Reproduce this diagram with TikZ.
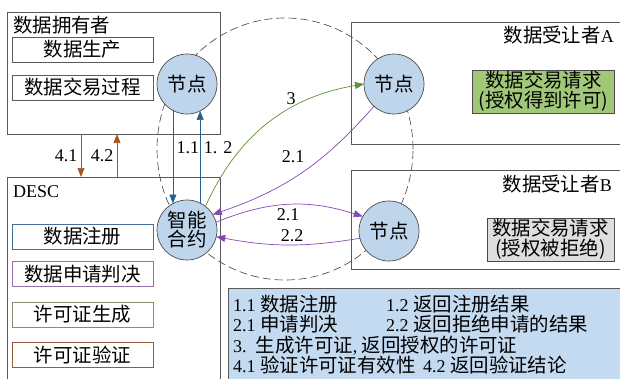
\documentclass[tikz,border=0pt]{standalone}
\usepackage{fontspec}
\setmainfont{Liberation Serif}
\newfontfamily\cjk[Scale=1.08]{Noto Sans CJK SC}
\newcommand{\zh}[1]{{\cjk #1}}
\usetikzlibrary{arrows.meta}
\definecolor{peerfill}{RGB}{190,213,236}
\definecolor{legendfill}{RGB}{196,218,240}
\definecolor{grantfill}{RGB}{160,200,120}
\definecolor{denyfill}{RGB}{222,222,222}
\definecolor{regblue}{RGB}{70,110,150}
\definecolor{decpurple}{RGB}{150,110,170}
\definecolor{genolive}{RGB}{140,140,110}
\definecolor{verbrown}{RGB}{150,90,60}
\definecolor{flowblue}{RGB}{40,95,145}
\definecolor{flowbrown}{RGB}{165,85,35}
\definecolor{flowgreen}{RGB}{95,145,55}
\definecolor{flowpurple}{RGB}{135,70,185}
\tikzset{
  party/.style={draw=black!65, line width=0.8pt, inner sep=0pt, outer sep=0pt},
  task/.style={draw=#1, line width=0.7pt, minimum width=141pt, minimum height=25pt, inner sep=0pt, outer sep=0pt},
  task/.default=black!65,
  peer/.style={circle, draw=black!70, fill=peerfill, line width=0.7pt, minimum size=60pt, inner sep=0pt, outer sep=0pt, align=center, font=\fontsize{18}{19}\selectfont},
  flow/.style={line width=0.7pt, -{Triangle[length=9pt,width=7pt]}},
  ring/.style={draw=black!75, line width=0.6pt, dash pattern=on 8pt off 4pt},
}
\begin{document}
\begin{tikzpicture}[x=1pt, y=-1pt, font=\fontsize{18}{20}\selectfont]
  \useasboundingbox (0,0) rectangle (620,378);
  % dashed ring behind the peers
  \draw[ring] (285,149) ellipse [x radius=128pt, y radius=131pt];
  % data owner
  \node[party, minimum width=213pt, minimum height=122pt] (owner) at (113.5,73) {};
  \node[anchor=west, inner sep=0pt] (ownertitle) at (13,25) {\zh{数据拥有者}};
  \node[task] (produce) at (82.5,49.5) {\zh{数据生产}};
  \node[task] (process) at (82.5,87.5) {\zh{数据交易过程}};
  \node[peer] (nodeO) at (187,84) {\zh{节点}};
  % DESC
  \node[party, minimum width=213pt, minimum height=215pt] (desc) at (113.5,284.5) {};
  \node[anchor=west, inner sep=0pt] (desctitle) at (13,192) {DESC};
  \foreach \txt/\y/\col [count=\i] in {数据注册/236.5/regblue, 数据申请判决/274/decpurple, 许可证生成/314.5/genolive, 许可证验证/355/verbrown}
    \node[task=\col] (job\i) at (82.5,\y) {\zh{\txt}};
  \node[peer] (contract) at (187,230) {\zh{智能}\\\zh{合约}};
  % grantee A
  \node[party, minimum width=274pt, minimum height=122pt] (granteeA) at (488,83) {};
  \node[anchor=east, inner sep=0pt] (titleA) at (614,35) {\zh{数据受让者}A};
  \node[draw=black!70, line width=0.7pt, fill=grantfill, minimum width=142pt, minimum height=43pt, inner sep=0pt, align=center] (grantA) at (543.5,91.5) {\zh{数据交易请求}\\\zh{(授权得到许可)}};
  \node[peer] (nodeA) at (394,84) {\zh{节点}};
  % grantee B
  \node[party, minimum width=274pt, minimum height=99pt] (granteeB) at (488,219.5) {};
  \node[anchor=east, inner sep=0pt] (titleB) at (612,184) {\zh{数据受让者}B};
  \node[draw=black!70, line width=0.7pt, fill=denyfill, minimum width=127pt, minimum height=43pt, inner sep=0pt, align=center] (denyB) at (550.5,239.5) {\zh{数据交易请求}\\\zh{(授权被拒绝)}};
  \node[peer] (nodeB) at (389,231) {\zh{节点}};
  % legend
  \node[party, fill=legendfill, minimum width=397pt, minimum height=100pt] (legend) at (426.5,338) {};
  \foreach \row [count=\i] in {
      {\makebox[153pt][l]{1.1 \zh{数据注册}}1.2 \zh{返回注册结果}},
      {\makebox[153pt][l]{2.1 \zh{申请判决}}2.2 \zh{返回拒绝申请的结果}},
      {3.\ \ \zh{生成许可证}, \zh{返回授权的许可证}},
      {\makebox[190pt][l]{4.1 \zh{验证许可证有效性}}4.2 \zh{返回验证结论}}}
    \node[anchor=base west, inner sep=0pt] (row\i) at (233,290.5+20.5*\i) {\row};
  % flows
  \draw[flow, flowbrown] ([xshift=74pt]owner.south west) -- ([xshift=74pt]desc.north west) node[midway, left, text=black] (l41) {4.1};
  \draw[flow, flowbrown] ([xshift=110pt]desc.north west) -- ([xshift=110pt]owner.south west) node[midway, left, text=black] (l42) {4.2};
  \draw[flow, flowblue] (nodeO.-118) -- (contract.118) node[pos=0.4, right, text=black] (l11) {1.1};
  \draw[flow, flowblue] (contract.64) -- (nodeO.-64) node[pos=0.6, right, text=black] (l12) {1. 2};
  \draw[flow, flowgreen] (contract.52) to[bend left=28] (nodeA.180);
  \draw[flow, flowpurple] (nodeA.-132) to[bend left=15] (contract.31);
  \draw[flow, flowpurple] (contract.15) to[bend left=20] (nodeB.151);
  \draw[flow, flowpurple] (nodeB.-166) to[bend left=10] (contract.-13);
  \node (l3) at (291,99) {3};
  \node (l21a) at (293,157) {2.1};
  \node (l21b) at (288,215) {2.1};
  \node (l22) at (292,236) {2.2};
\end{tikzpicture}
\end{document}
